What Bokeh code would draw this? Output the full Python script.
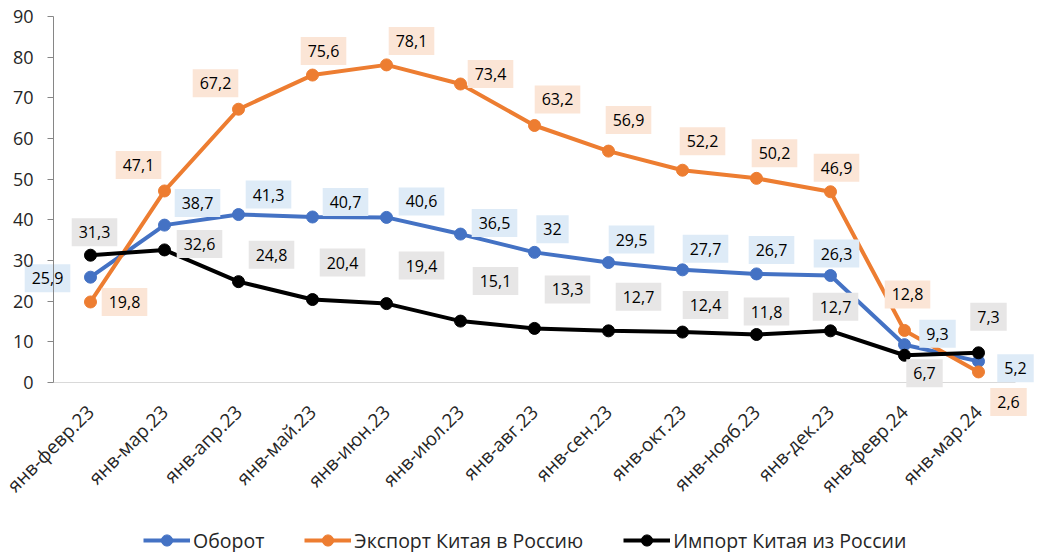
from bokeh.plotting import figure
from bokeh.models import (Range1d, FixedTicker, Legend, LegendItem, LinearAxis,
                          ColumnDataSource)
from bokeh.core.properties import value
from bokeh.embed import file_html
from bokeh.resources import INLINE

# ---------------- data ----------------
categories = ["янв-февр.23", "янв-мар.23", "янв-апр.23", "янв-май.23", "янв-июн.23",
              "янв-июл.23", "янв-авг.23", "янв-сен.23", "янв-окт.23", "янв-нояб.23",
              "янв-дек.23", "янв-февр.24", "янв-мар.24"]
turnover = [25.9, 38.7, 41.3, 40.7, 40.6, 36.5, 32, 29.5, 27.7, 26.7, 26.3, 9.3, 5.2]
export_cn_ru = [19.8, 47.1, 67.2, 75.6, 78.1, 73.4, 63.2, 56.9, 52.2, 50.2, 46.9, 12.8, 2.6]
import_cn_ru = [31.3, 32.6, 24.8, 20.4, 19.4, 15.1, 13.3, 12.7, 12.4, 11.8, 12.7, 6.7, 7.3]
series_names = ["Оборот", "Экспорт Китая в Россию", "Импорт Китая из России"]
y_ticks = [0, 10, 20, 30, 40, 50, 60, 70, 80, 90]

# ---------------- label placement (screen px, style) ----------------
turnover_dx = [-43, 33, 30, 33, 35, 34, 18, 23, 23, 15, 6, 33, 37]
turnover_dy = [1, -22, -20, -15, -16, -11, -23, -23, -21, -24, -22, -11, 7]
export_dx = [34, -26, -23, 11, 25, 30, 23, 20, 20, 18, 6, 3, 30]
export_dy = [0, -26, -26, -24, -24, -10, -26, -31, -29, -25, -24, -36, 30]
import_dx = [4, 35, 33, 30, 35, 35, 33, 30, 23, 10, 5, 20, 10]
import_dy = [-23, -6, -27, -37, -38, -40, -39, -34, -27, -23, -24, 18, -36]

FONT = "Open Sans"
colors = ["#4472C4", "#ED7D31", "#000000"]
box_colors = ["#DEEBF7", "#FBE5D6", "#E7E6E6"]

W, H = 1040, 552
# plot-area geometry (px): left 53, right 1015, top 16 (y=90), bottom 382 (y=0)
n = len(categories)
step = (1015 - 53) / n
x_start = -(53 + step / 2) / step
x_end = x_start + W / step
ppu = (382 - 16) / 90.0
y_end = 90 + 16 / ppu
y_start = -(H - 382) / ppu


def fmt(v):
    return f"{v:g}".replace(".", ",")


xs = list(range(n))

p = figure(width=W, height=H, x_range=Range1d(x_start, x_end),
           y_range=Range1d(y_start, y_end), output_backend="svg",
           toolbar_location=None, x_axis_type=None, y_axis_type=None,
           min_border=0)
p.outline_line_color = None
p.xgrid.visible = False
p.ygrid.visible = False
p.background_fill_color = "white"
p.border_fill_color = "white"

yaxis = LinearAxis(fixed_location=-0.5, bounds=(0, 90),
                   ticker=FixedTicker(ticks=y_ticks))
yaxis.axis_line_color = "#868686"
yaxis.major_tick_line_color = "#868686"
yaxis.major_tick_out = 6
yaxis.major_tick_in = 0
yaxis.minor_tick_line_color = None
yaxis.major_label_text_font = FONT
yaxis.major_label_text_font_size = "18px"
yaxis.major_label_text_color = "#262626"
yaxis.major_label_standoff = 14
p.add_layout(yaxis, "left")

xaxis = LinearAxis(fixed_location=0, bounds=(-0.5, n - 0.5),
                   ticker=FixedTicker(ticks=xs),
                   major_label_overrides={i: c for i, c in enumerate(categories)})
xaxis.level = "underlay"
xaxis.axis_line_color = "#D9D9D9"
xaxis.major_tick_line_color = None
xaxis.minor_tick_line_color = None
xaxis.major_label_orientation = 0.7854
xaxis.major_label_text_font = FONT
xaxis.major_label_text_font_size = "19px"
xaxis.major_label_text_color = "#262626"
xaxis.major_label_standoff = 20
p.add_layout(xaxis, "below")

all_series = [turnover, export_cn_ru, import_cn_ru]
all_dx = [turnover_dx, export_dx, import_dx]
all_dy = [turnover_dy, export_dy, import_dy]

items = []
for name, vals, col in zip(series_names, all_series, colors):
    src = ColumnDataSource(dict(x=xs, y=vals))
    ln = p.line("x", "y", source=src, line_color=col, line_width=4)
    sc = p.scatter("x", "y", source=src, size=12, fill_color=col, line_color=col)
    items.append(LegendItem(label=name, renderers=[ln, sc]))

for vals, dx, dy, bc in zip(all_series, all_dx, all_dy, box_colors):
    src = ColumnDataSource(dict(x=xs, y=vals, t=[fmt(v) for v in vals],
                                dx=dx, dy=dy))
    p.text("x", "y", text="t", source=src, x_offset="dx", y_offset="dy",
           text_align="center", text_baseline="middle",
           text_font=value(FONT), text_font_size="16px", text_color="#000000",
           background_fill_color=bc, padding=dict(left=7, right=7, top=8, bottom=8))

legend = Legend(items=items, orientation="horizontal", location=(143, -2))
legend.label_text_font = FONT
legend.label_text_font_size = "19.5px"
legend.label_text_color = "#262626"
legend.glyph_width = 47
legend.glyph_height = 28
legend.label_standoff = 3
legend.spacing = 40
legend.border_line_color = None
legend.background_fill_alpha = 0
legend.margin = 0
legend.padding = 0
p.add_layout(legend, "center")

open("out.html", "w").write(file_html(p, INLINE))
